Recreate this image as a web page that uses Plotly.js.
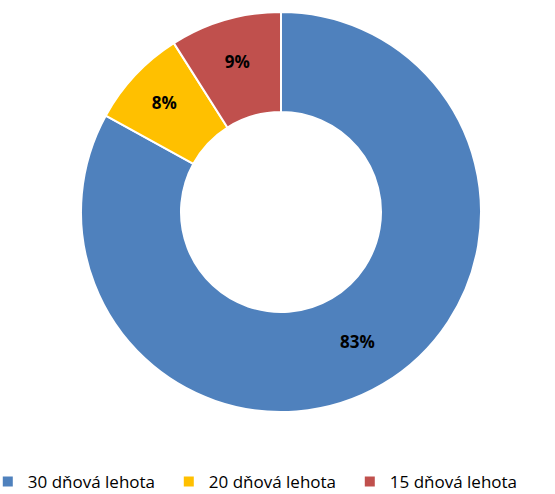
<!DOCTYPE html>
<html><head><meta charset="utf-8">
<script src="https://cdn.plot.ly/plotly-3.0.1.min.js"></script>
<style>html,body{margin:0;padding:0;background:#fff}#c{width:555px;height:494px}</style>
</head><body><div id="c"></div>
<script>
const categories = ["30 dňová lehota", "20 dňová lehota", "15 dňová lehota"];
const values = [83, 8, 9];
const colors = ["#4F81BD", "#FFC000", "#C0504D"];

const trace = {
  type: "pie",
  labels: categories,
  values: values,
  hole: 0.5,
  sort: false,
  direction: "clockwise",
  rotation: 0,
  marker: {colors: colors, line: {color: "#ffffff", width: 2}},
  textinfo: "percent",
  texttemplate: "<b>%{percent:.0%}</b>",
  textposition: "inside",
  insidetextorientation: "horizontal",
  textfont: {family: "Open Sans, sans-serif", size: 17, color: "#000000"},
  domain: {x: [81/555, 481/555], y: [82/494, 482/494]},
  hoverinfo: "none"
};

const layout = {
  width: 555, height: 494,
  margin: {l: 0, r: 0, t: 0, b: 0, autoexpand: false},
  paper_bgcolor: "#ffffff",
  showlegend: true,
  legend: {
    orientation: "h", x: -0.022, xanchor: "left", y: -0.012, yanchor: "bottom",
    font: {family: "Open Sans, sans-serif", size: 17, color: "#000000"},
    entrywidth: 136, entrywidthmode: "pixels",
    itemwidth: 30, bgcolor: "rgba(0,0,0,0)"
  }
};

Plotly.newPlot("c", [trace], layout, {displayModeBar: false, staticPlot: true});
</script></body></html>
